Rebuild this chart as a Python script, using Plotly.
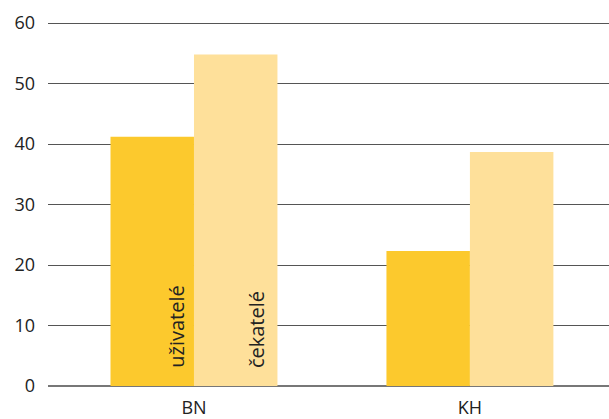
import plotly.graph_objects as go

categories = ["BN", "KH"]
series_names = ["uživatelé", "čekatelé"]
uzivatele = [41.2, 22.3]
cekatele = [54.8, 38.7]
y_ticks = [0, 10, 20, 30, 40, 50, 60]

colors = ["#FCC92D", "#FEE09A"]
xpos = list(range(len(categories)))

fig = go.Figure()
for name, vals, col in zip(series_names, [uzivatele, cekatele], colors):
    fig.add_trace(go.Bar(x=xpos, y=vals, name=name, marker=dict(color=col, line=dict(width=0)),
                         hoverinfo="y"))

font = "Open Sans, Noto Sans, sans-serif"
# in-bar rotated labels on the first category
for off, name in zip([-0.066, 0.227], series_names):
    fig.add_annotation(x=xpos[0] + off, y=0, text=name, textangle=-90, showarrow=False,
                       xanchor="center", yanchor="bottom", yshift=16,
                       font=dict(family=font, size=20, color="#222"))

fig.update_layout(
    width=609, height=419,
    margin=dict(l=48, r=0, t=20, b=33),
    paper_bgcolor="white", plot_bgcolor="white",
    barmode="group", bargap=0.395, bargroupgap=0,
    showlegend=False,
    font=dict(family=font, size=18, color="#222"),
    xaxis=dict(range=[-0.529, 1.504], tickvals=xpos, ticktext=categories, showgrid=False,
               zeroline=False, showline=False, ticks="", tickfont=dict(size=18, color="#222"),
               ticklabelstandoff=9),
    yaxis=dict(range=[0, 60.5], tickvals=y_ticks, showgrid=True, gridcolor="#555", gridwidth=1,
               zeroline=True, zerolinecolor="#777", zerolinewidth=1.5, showline=False, ticks="",
               tickfont=dict(size=18, color="#222"), ticklabelstandoff=12),
)
fig.write_html("out.html", config={"displayModeBar": False},
               post_script="document.body.style.margin='0';document.body.style.overflow='hidden';")
